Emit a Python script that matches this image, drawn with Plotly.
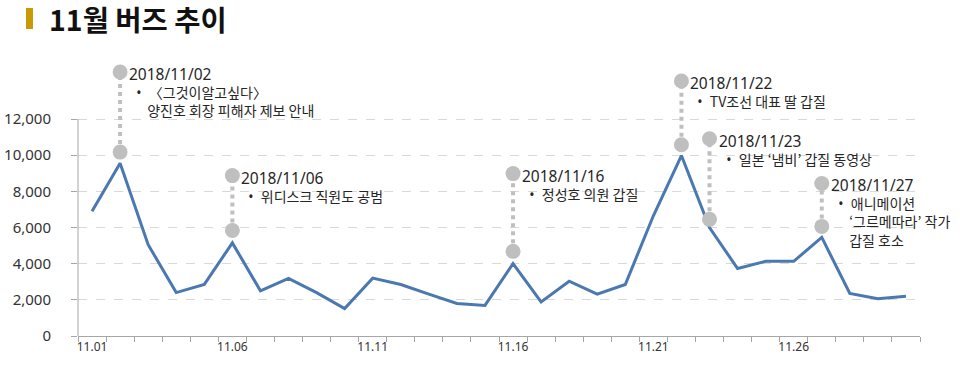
import plotly.graph_objects as go

# ---- data ----
days = [f"11.{d:02d}" for d in range(1, 31)]
tick_labels = [d if i % 5 == 0 else "" for i, d in enumerate(days)]
buzz = [6900, 9550, 5050, 2400, 2850, 5150, 2500, 3180, 2400, 1520,
        3200, 2850, 2320, 1800, 1690, 4000, 1880, 3030, 2320, 2850,
        6650, 9980, 6000, 3730, 4130, 4130, 5450, 2350, 2060, 2200]
y_ticks = [0, 2000, 4000, 6000, 8000, 10000, 12000]

event_days = ["11.02", "11.06", "11.16", "11.22", "11.23", "11.27"]
event_dates = ["2018/11/02", "2018/11/06", "2018/11/16", "2018/11/22", "2018/11/23", "2018/11/27"]
event_texts = [
    ["〈그것이알고싶다〉", "양진호 회장 피해자 제보 안내"],
    ["위디스크 직원도 공범"],
    ["정성호 의원 갑질"],
    ["TV조선 대표 딸 갑질"],
    ["일본 ‘냄비’ 갑질 동영상"],
    ["애니메이션", "‘그르메따라’ 작가", "갑질 호소"],
]
event_top = [14600, 8870, 8980, 14100, 10910, 8430]
event_bottom = [10170, 5840, 4680, 10580, 6450, 6060]

# ---- style ----
LINE_COLOR = "#4a78b0"
GREY = "#bfbfbf"
AXIS = "#a6a6a6"
TXT = "#262626"
KR = "Noto Sans CJK KR"

fig = go.Figure()

# main line (first, so category order follows the days)
fig.add_trace(go.Scatter(x=days, y=buzz, mode="lines",
                         line=dict(color=LINE_COLOR, width=3),
                         showlegend=False))

# dotted connector lines + circles
for d, t, b in zip(event_days, event_top, event_bottom):
    fig.add_trace(go.Scatter(x=[d, d], y=[b, t], mode="lines",
                             line=dict(color=GREY, width=4, dash="dot"),
                             hoverinfo="skip", showlegend=False))
fig.add_trace(go.Scatter(x=event_days + event_days, y=event_top + event_bottom,
                         mode="markers", marker=dict(size=15, color=GREY),
                         cliponaxis=False, hoverinfo="skip", showlegend=False))

BODY = 14
SP = "&nbsp;"
bullet = f'<span style="font-family:Noto Sans">{SP*2}•{SP*2}</span>'
indent = f'<span style="font-family:Noto Sans">{SP*5}</span>'

annotations = []
for d, t, date, lines in zip(event_days, event_top, event_dates, event_texts):
    xi = days.index(d)  # category index for annotation placement
    rows = [f'<span style="font-family:Noto Sans;font-size:15.5px">{date}</span>']
    rows.append(bullet + lines[0])
    rows += [indent + ln for ln in lines[1:]]
    annotations.append(dict(x=xi, y=t, xref="x", yref="y", text="<br>".join(rows),
                            showarrow=False, align="left", borderpad=0,
                            xanchor="left", yanchor="top", xshift=8,
                            yshift=0.65 * BODY + 1,
                            font=dict(family=KR, size=BODY, color=TXT)))

fig.update_layout(
    width=960, height=372,
    margin=dict(l=78, r=40, t=60, b=36, autoexpand=False),
    plot_bgcolor="white", paper_bgcolor="white",
    title=dict(text="<b>11월 버즈 추이</b>", x=49 / 960, xanchor="left",
               y=1 - 21 / 372, yanchor="middle", yref="container",
               font=dict(family=KR, size=28.5, color="#111111")),
    annotations=annotations,
    shapes=[
        dict(type="rect", xref="paper", yref="paper",
             x0=(26 - 78) / 842, x1=(33 - 78) / 842,
             y0=(336 - 29) / 276, y1=(336 - 8) / 276,
             fillcolor="#c99a06", line=dict(width=0)),
        dict(type="line", xref="paper", yref="y", x0=0, x1=0, y0=0, y1=12000,
             line=dict(color=AXIS, width=1)),
    ],
    xaxis=dict(type="category", categoryorder="array", categoryarray=days,
               range=[-0.5, 29.5], tickmode="array", automargin=False,
               tickvals=days, ticktext=tick_labels, tickson="boundaries",
               tickangle=0,
               ticks="outside", ticklen=5, tickcolor=AXIS,
               showline=True, linecolor=AXIS, linewidth=1, showgrid=False,
               tickfont=dict(family="Noto Sans", size=12, color="#333333")),
    yaxis=dict(range=[0, 12000 / ((336 - 119) / 276)], tickmode="array",
               automargin=False,
               tickvals=y_ticks, ticktext=[f"{v:,}" for v in y_ticks],
               ticks="outside", ticklen=6, tickcolor=AXIS, ticklabelstandoff=17,
               showline=False, zeroline=False, showgrid=True,
               gridcolor="#d9d9d9", griddash="dash", gridwidth=1,
               tickfont=dict(family="Noto Sans", size=15, color="#333333")),
)

fig.write_html("out.html", config={"displayModeBar": False},
               post_script="document.body.style.margin='0';")
